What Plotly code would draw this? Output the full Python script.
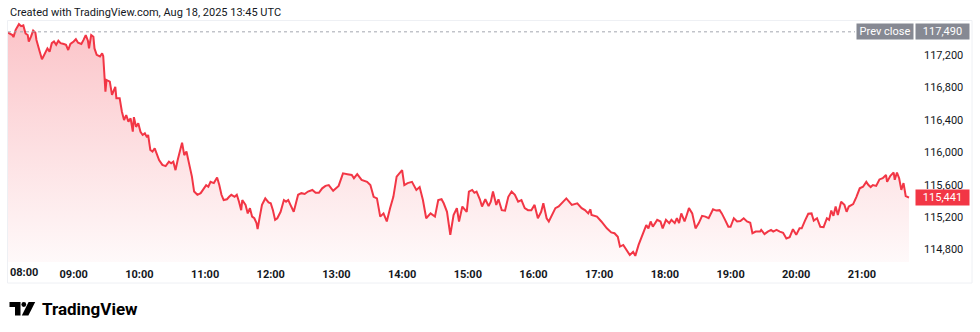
import pandas as pd
import plotly.graph_objects as go

# ---- data (minutes after 08:00 UTC, price) ----
minutes_after_0800 = [
    0, 4, 5, 7, 10, 12, 14, 16, 18, 19,
    21, 23, 25, 26, 29, 31, 32, 34, 36, 38,
    40, 42, 44, 46, 48, 51, 53, 55, 57, 60,
    62, 64, 67, 69, 71, 73, 74, 76, 78, 79,
    81, 84, 86, 87, 89, 90, 93, 95, 96, 98,
    99, 102, 104, 106, 108, 110, 112, 114, 115, 117,
    119, 121, 123, 125, 127, 128, 130, 132, 134, 137,
    138, 141, 144, 147, 149, 151, 153, 155, 157, 159,
    161, 163, 165, 166, 168, 170, 173, 176, 179, 181,
    183, 185, 188, 191, 193, 195, 197, 200, 202, 204,
    207, 209, 211, 213, 214, 217, 219, 221, 223, 225,
    227, 228, 230, 232, 235, 238, 240, 242, 244, 246,
    249, 252, 254, 256, 258, 261, 263, 265, 268, 271,
    274, 278, 281, 284, 287, 290, 293, 297, 302, 306,
    310, 314, 316, 319, 323, 328, 331, 334, 337, 340,
    343, 346, 349, 352, 355, 360, 362, 365, 369, 373,
    376, 379, 382, 386, 390, 393, 396, 398, 401, 404,
    407, 410, 412, 415, 419, 421, 424, 426, 428, 431,
    433, 436, 439, 441, 443, 446, 448, 451, 454, 457,
    460, 463, 466, 469, 472, 475, 478, 481, 484, 487,
    489, 492, 494, 497, 500, 503, 506, 510, 515, 520,
    524, 527, 530, 532, 533, 538, 542, 547, 551, 554,
    557, 559, 562, 565, 568, 571, 573, 576, 579, 583,
    585, 587, 589, 593, 596, 598, 601, 604, 606, 609,
    611, 613, 615, 618, 620, 622, 625, 628, 631, 634,
    637, 640, 644, 647, 650, 652, 655, 658, 660, 663,
    666, 669, 672, 675, 678, 680, 683, 687, 688, 691,
    694, 697, 699, 702, 705, 708, 711, 714, 717, 720,
    723, 725, 728, 731, 734, 736, 739, 742, 745, 748,
    750, 752, 754, 756, 758, 761, 764, 766, 768, 772,
    775, 778, 781, 784, 786, 788, 790, 793, 796, 799,
    802, 803, 806, 809, 810, 812, 814, 816, 818, 820,
    823,
]
prices = [
    117480, 117450, 117425, 117515, 117585, 117560, 117570, 117470, 117450, 117370,
    117430, 117505, 117480, 117390, 117245, 117150, 117175, 117225, 117285, 117245,
    117350, 117370, 117330, 117380, 117350, 117340, 117330, 117265, 117340, 117370,
    117400, 117355, 117340, 117390, 117450, 117380, 117285, 117450, 117430, 117285,
    117205, 117185, 117225, 117190, 116750, 116895, 116875, 116710, 116750, 116810,
    116670, 116670, 116505, 116400, 116460, 116380, 116420, 116255, 116435, 116315,
    116360, 116255, 116215, 116235, 116185, 116215, 116030, 116010, 116050, 115925,
    115905, 115845, 115830, 115885, 115865, 115885, 115780, 115905, 116010, 116120,
    115965, 116010, 115885, 115825, 115700, 115515, 115475, 115495, 115555, 115595,
    115575, 115635, 115620, 115690, 115595, 115475, 115410, 115420, 115450, 115475,
    115450, 115475, 115390, 115285, 115410, 115350, 115245, 115310, 115205, 115185,
    115125, 115050, 115205, 115350, 115430, 115380, 115370, 115285, 115165, 115185,
    115265, 115410, 115390, 115410, 115350, 115265, 115370, 115475, 115495, 115485,
    115515, 115535, 115500, 115500, 115555, 115585, 115595, 115525, 115585, 115740,
    115730, 115720, 115680, 115730, 115660, 115635, 115595, 115450, 115430, 115205,
    115245, 115145, 115310, 115450, 115700, 115780, 115595, 115620, 115635, 115535,
    115570, 115410, 115185, 115245, 115205, 115410, 115420, 115370, 115265, 114980,
    115225, 115310, 115145, 115330, 115265, 115515, 115535, 115500, 115515, 115420,
    115330, 115420, 115335, 115390, 115515, 115350, 115420, 115285, 115280, 115450,
    115515, 115475, 115390, 115410, 115310, 115285, 115285, 115350, 115185, 115265,
    115370, 115185, 115145, 115225, 115310, 115330, 115370, 115430, 115350, 115370,
    115310, 115285, 115245, 115295, 115225, 115205, 115145, 115060, 115010, 115000,
    114955, 114835, 114855, 114795, 114730, 114770, 114720, 114855, 114955, 115100,
    115060, 115145, 115080, 115165, 115145, 115060, 115165, 115125, 115165, 115125,
    115185, 115125, 115245, 115145, 115225, 115310, 115245, 115060, 115125, 115215,
    115205, 115185, 115295, 115280, 115285, 115245, 115165, 115080, 115080, 115185,
    115145, 115150, 115185, 115145, 115130, 115000, 115020, 115020, 115040, 114990,
    115020, 115040, 115020, 115040, 115020, 115005, 114935, 114950, 115050, 114980,
    115060, 115060, 115155, 115240, 115245, 115155, 115185, 115080, 115075, 115185,
    115165, 115280, 115215, 115330, 115225, 115390, 115350, 115265, 115330, 115360,
    115450, 115555, 115575, 115635, 115595, 115570, 115595, 115585, 115665, 115680,
    115720, 115635, 115710, 115750, 115660, 115750, 115680, 115535, 115620, 115460,
    115441,
]
prev_close = 117490
last_price = prices[-1]
y_ticks = [114800, 115200, 115600, 116000, 116400, 116800, 117200]
x_tick_hours = ["09:00", "10:00", "11:00", "12:00", "13:00", "14:00", "15:00",
                "16:00", "17:00", "18:00", "19:00", "20:00", "21:00"]
first_hour_label = "08:00"
title_text = "Created with TradingView.com, Aug 18, 2025 13:45 UTC"

# ---- build ----
day = "2025-08-18"
n = min(len(minutes_after_0800), len(prices))
times = pd.Timestamp(f"{day} 08:00") + pd.to_timedelta(minutes_after_0800[:n], unit="min")
tick_times = [pd.Timestamp(f"{day} {h}") for h in x_tick_hours]

W, H = 980, 332
ML, MR, MT, MB = 8, 64, 21, 70
PW, PH = W - ML - MR, H - MT - MB


def px(x):
    return (x - ML) / PW


def py(y):
    return (H - MB - y) / PH


RED = "#F23645"
TXT = "#131722"
FONT = "Roboto"

y_lo, y_hi = 114644, 117624

fig = go.Figure()
fig.add_trace(go.Scatter(
    x=times, y=prices[:n], mode="lines",
    line=dict(color=RED, width=2),
    fill="tozeroy",
    fillgradient=dict(
        type="vertical", start=y_lo, stop=y_hi,
        colorscale=[[0, "rgba(242,54,69,0.03)"], [1, "rgba(242,54,69,0.30)"]],
    ),
    hoverinfo="skip", showlegend=False,
))

x_end = pd.Timestamp(f"{day} 08:00") + pd.Timedelta(minutes=829.4)

shapes = [
    # chart card border
    dict(type="rect", xref="paper", yref="paper",
         x0=px(7.5), x1=px(972), y0=py(283), y1=py(20.5),
         line=dict(color="#EEF0F4", width=1), fillcolor="rgba(0,0,0,0)", layer="below"),
    # previous close dotted line
    dict(type="line", xref="paper", yref="y", x0=0, x1=px(855),
         y0=prev_close, y1=prev_close,
         line=dict(color="#A3A6AF", width=1, dash="dot")),
    # TradingView logo mark
    dict(type="path", xref="paper", yref="paper",
         path=f"M {px(9.5)} {py(302)} L {px(20.5)} {py(302)} L {px(20.5)} {py(315.5)} "
              f"L {px(15)} {py(315.5)} L {px(15)} {py(307)} L {px(9.5)} {py(307)} Z",
         fillcolor="#000000", line=dict(width=0)),
    dict(type="circle", xref="paper", yref="paper",
         x0=px(21.4), x1=px(26.2), y0=py(306.9), y1=py(302.1),
         fillcolor="#000000", line=dict(width=0)),
    dict(type="path", xref="paper", yref="paper",
         path=f"M {px(28.6)} {py(302)} L {px(35.2)} {py(302)} L {px(28.4)} {py(315.5)} "
              f"L {px(21.8)} {py(315.5)} Z",
         fillcolor="#000000", line=dict(width=0)),
]

annotations = [
    dict(text=title_text, xref="paper", yref="paper", x=px(8), y=py(13),
         xanchor="left", yanchor="middle", showarrow=False,
         font=dict(family=FONT, size=11, color=TXT)),
    dict(text=first_hour_label, xref="x", yref="paper",
         x=pd.Timestamp(f"{day} 08:00"), y=py(272),
         xanchor="left", yanchor="middle", showarrow=False,
         font=dict(family=FONT, size=11, color=TXT, weight=700)),
    dict(text="Prev close", xref="paper", yref="y", x=px(913.5), y=prev_close,
         xanchor="right", yanchor="middle", showarrow=False,
         bgcolor="#868993", borderpad=1, width=54,
         font=dict(family=FONT, size=11, color="#FFFFFF")),
    dict(text=f"{prev_close:,}", xref="paper", yref="y", x=px(915), y=prev_close,
         xanchor="left", yanchor="middle", showarrow=False,
         bgcolor="#868993", borderpad=1, width=51,
         font=dict(family=FONT, size=11, color="#FFFFFF")),
    dict(text=f"{last_price:,}", xref="paper", yref="y", x=px(915), y=last_price,
         xanchor="left", yanchor="middle", showarrow=False,
         bgcolor=RED, borderpad=1, width=51,
         font=dict(family=FONT, size=11, color="#FFFFFF")),
    dict(text="TradingView", xref="paper", yref="paper", x=px(40), y=py(308.5),
         xanchor="left", yanchor="middle", showarrow=False,
         font=dict(family=FONT, size=17, color="#000000", weight=700)),
]

fig.update_layout(
    width=W, height=H,
    margin=dict(l=ML, r=MR, t=MT, b=MB, pad=0),
    paper_bgcolor="#FFFFFF", plot_bgcolor="#FFFFFF",
    shapes=shapes, annotations=annotations,
    xaxis=dict(
        type="date", range=[pd.Timestamp(f"{day} 08:00"), x_end],
        tickvals=tick_times, ticktext=x_tick_hours,
        showgrid=False, zeroline=False, showline=False, ticks="",
        tickfont=dict(family=FONT, size=11, color=TXT, weight=700),
        ticklabelstandoff=4, fixedrange=True,
    ),
    yaxis=dict(
        side="right", range=[y_lo, y_hi], tickvals=y_ticks,
        tickformat=",d", showgrid=False, zeroline=False, showline=False, ticks="",
        tickfont=dict(family=FONT, size=11, color=TXT),
        ticklabelstandoff=7, fixedrange=True,
    ),
)

fig.write_html("out.html")
